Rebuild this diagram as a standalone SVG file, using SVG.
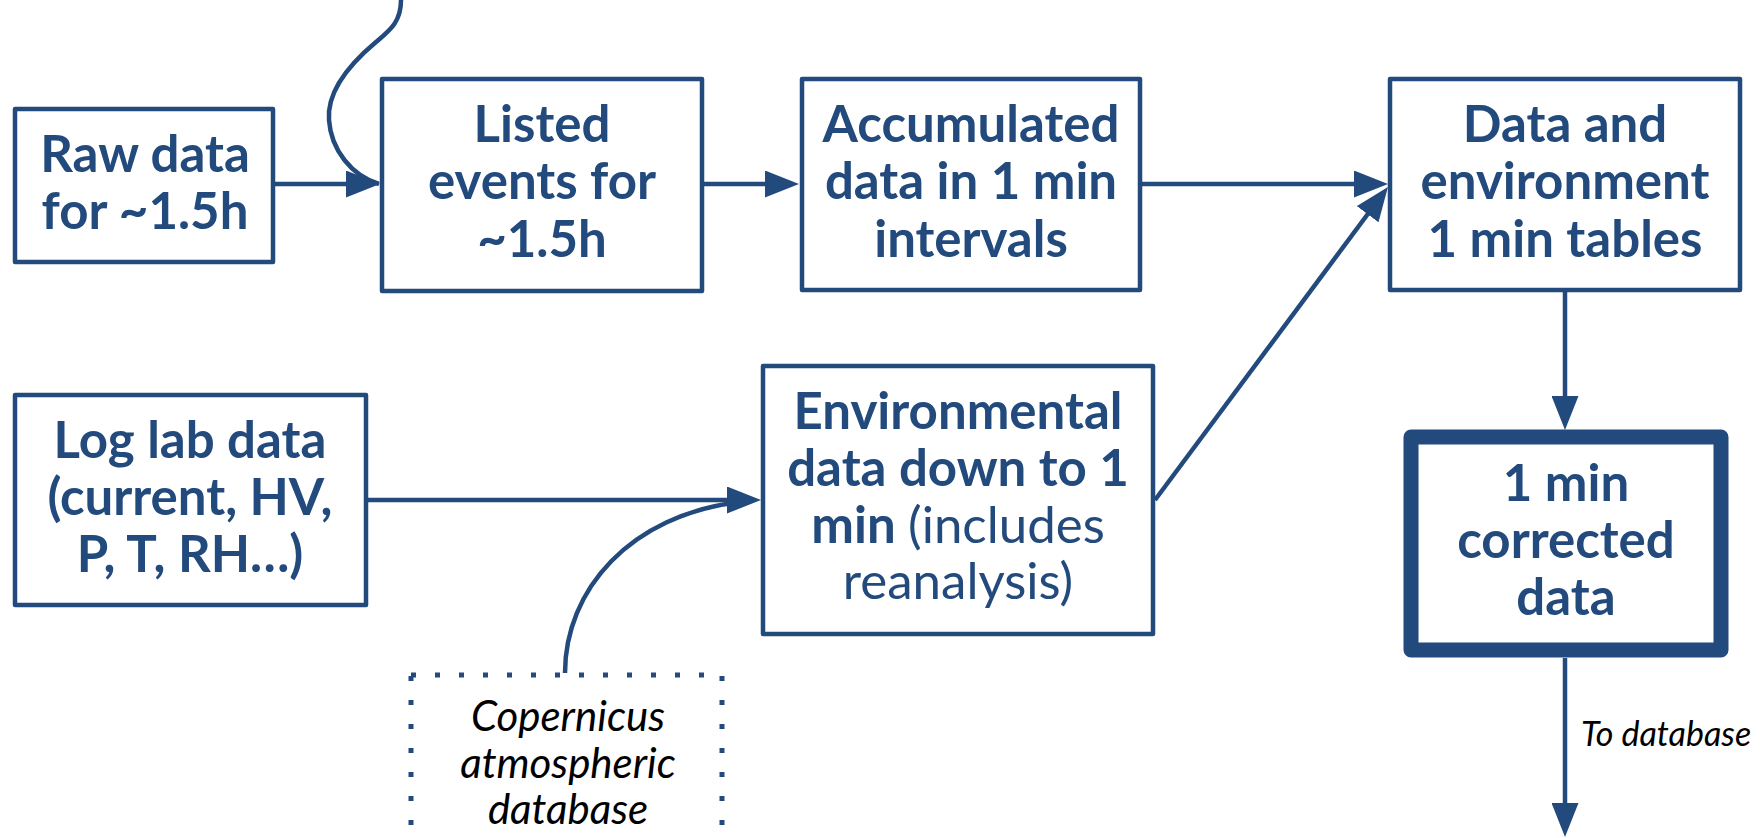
<svg xmlns="http://www.w3.org/2000/svg" width="1762" height="838" viewBox="0 0 1762 838">
  <style>
    .box { fill: #ffffff; stroke: #234a7c; stroke-width: 4.5; stroke-linejoin: round; }
    .box-thick { fill: #ffffff; stroke: #234a7c; stroke-width: 15; stroke-linejoin: round; }
    .src { fill: none; stroke: #234a7c; stroke-width: 5; stroke-dasharray: 5 19; }
    .wire { fill: none; stroke: #234a7c; stroke-width: 4.5; }
    .t { font-family: Lato, "Noto Sans", "Liberation Sans", sans-serif; font-size: 51px; font-weight: 700; fill: #234a7c; text-anchor: middle; }
    .reg { font-weight: 400; }
    .note { font-family: Lato, "Noto Sans", "Liberation Sans", sans-serif; font-style: italic; fill: #000000; }
  </style>
  <defs>
    <marker id="arrow" viewBox="0 0 34 27" refX="14" refY="13.5" markerWidth="34" markerHeight="27" markerUnits="userSpaceOnUse" orient="auto">
      <path d="M0,0 L34,13.5 L0,27 Z" fill="#234a7c"/>
    </marker>
  </defs>

  <rect width="1762" height="838" fill="#ffffff"/>

  <!-- connectors -->
  <g id="connectors">
    <path class="wire" d="M401,0 C401,22 390,30 376,42 C345,68 327,95 329,120 C331,150 352,176 379,184"/>
    <path class="wire" d="M275,184 L360,184" marker-end="url(#arrow)"/>
    <path class="wire" d="M704,184 L779,184" marker-end="url(#arrow)"/>
    <path class="wire" d="M1142,184 L1368,184" marker-end="url(#arrow)"/>
    <path class="wire" d="M1155,500 L1376,203" marker-end="url(#arrow)"/>
    <path class="wire" d="M368,500 L741,500" marker-end="url(#arrow)"/>
    <path class="wire" d="M565,673 C565,590 630,515 740,502"/>
    <path class="wire" d="M1565,292 L1565,410" marker-end="url(#arrow)"/>
    <path class="wire" d="M1565,658 L1565,817" marker-end="url(#arrow)"/>
    <text class="note" x="1581" y="746" font-size="34">To database</text>
  </g>

  <g id="raw-data">
    <rect class="box" x="15" y="109" width="258" height="153"/>
    <text class="t" x="145" y="172">Raw data</text>
    <text class="t" x="145" y="229">for ~1.5h</text>
  </g>

  <g id="listed-events">
    <rect class="box" x="382" y="79" width="320" height="212"/>
    <text class="t" x="542" y="142">Listed</text>
    <text class="t" x="542" y="199">events for</text>
    <text class="t" x="542" y="257">~1.5h</text>
  </g>

  <g id="accumulated">
    <rect class="box" x="802" y="79" width="338" height="211"/>
    <text class="t" x="971" y="142">Accumulated</text>
    <text class="t" x="971" y="199">data in 1 min</text>
    <text class="t" x="971" y="257">intervals</text>
  </g>

  <g id="data-environment">
    <rect class="box" x="1390" y="79" width="350" height="211"/>
    <text class="t" x="1565" y="142">Data and</text>
    <text class="t" x="1565" y="199">environment</text>
    <text class="t" x="1565" y="257">1 min tables</text>
  </g>

  <g id="log-lab">
    <rect class="box" x="15" y="395" width="351" height="210"/>
    <text class="t" x="190" y="458">Log lab data</text>
    <text class="t" x="190" y="515">(current, HV,</text>
    <text class="t" x="190" y="572">P, T, RH…)</text>
  </g>

  <g id="environmental">
    <rect class="box" x="763" y="366" width="390" height="268"/>
    <text class="t" x="958" y="429">Environmental</text>
    <text class="t" x="958" y="486">data down to 1</text>
    <text class="t" x="958" y="543">min <tspan class="reg">(includes</tspan></text>
    <text class="t reg" x="958" y="599">reanalysis)</text>
  </g>

  <g id="corrected">
    <rect class="box-thick" x="1411" y="437" width="310" height="213"/>
    <text class="t" x="1566" y="501">1 min</text>
    <text class="t" x="1566" y="558">corrected</text>
    <text class="t" x="1566" y="615">data</text>
  </g>

  <g id="copernicus">
    <rect class="src" x="411" y="675" width="311" height="220"/>
    <text class="note" x="568" y="731" font-size="42" text-anchor="middle">Copernicus</text>
    <text class="note" x="568" y="778" font-size="42" text-anchor="middle">atmospheric</text>
    <text class="note" x="568" y="824" font-size="42" text-anchor="middle">database</text>
  </g>
</svg>
